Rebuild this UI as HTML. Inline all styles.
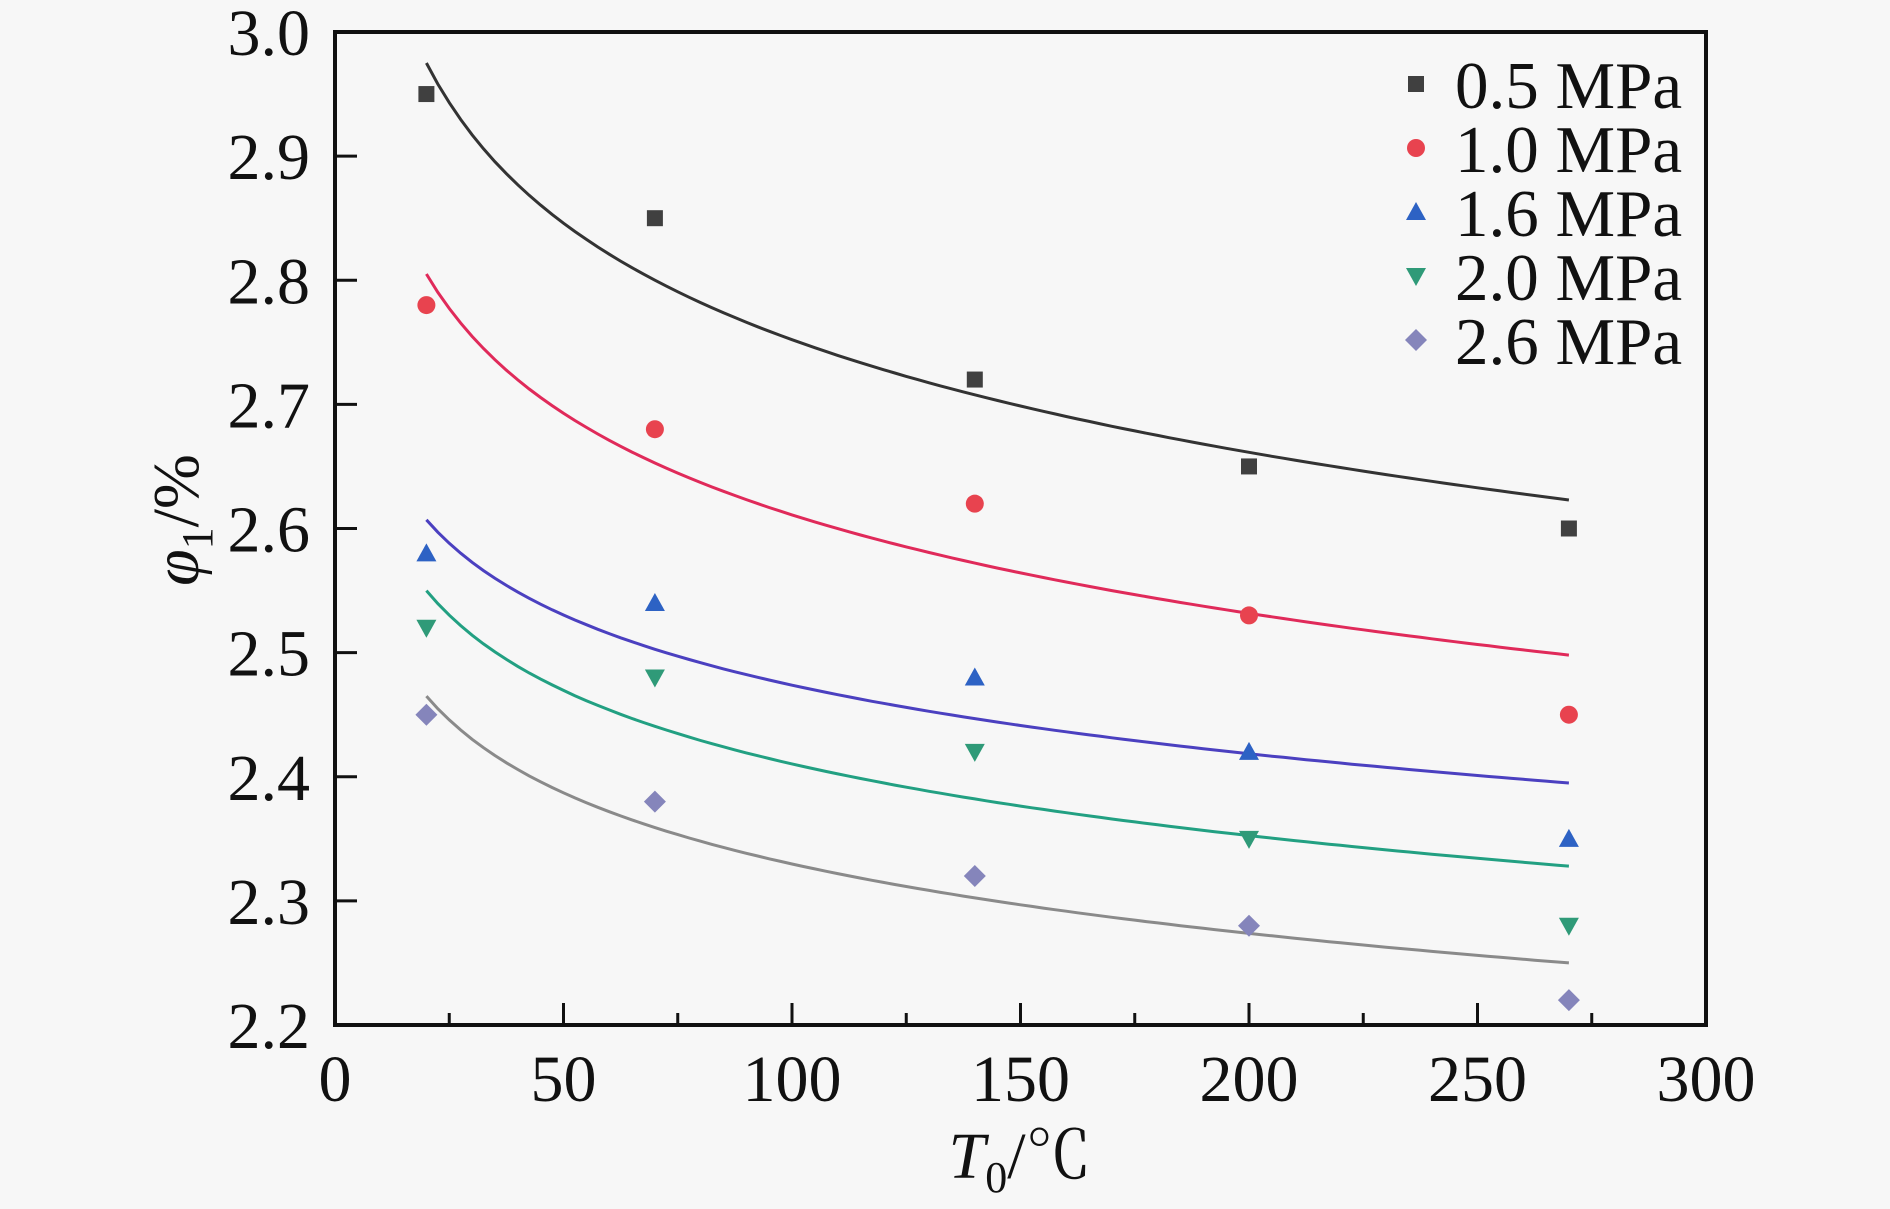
<!DOCTYPE html>
<html><head><meta charset="utf-8"><style>
html,body{margin:0;padding:0;background:#f7f7f7;}
svg{display:block;font-family:"Liberation Serif","Noto Serif CJK SC",serif;}
</style></head><body>
<svg id="chart" width="1890" height="1209" viewBox="0 0 1890 1209" xmlns="http://www.w3.org/2000/svg">
<rect width="1890" height="1209" fill="#f7f7f7"/>
<g id="marks"></g>
<g id="axes"></g>
<g id="legend"></g>
</svg>
<script>
const categories = [20, 70, 140, 200, 270];
const seriesNames = ["0.5 MPa","1.0 MPa","1.6 MPa","2.0 MPa","2.6 MPa"];
const s05 = [2.95, 2.85, 2.72, 2.65, 2.60];
const s10 = [2.78, 2.68, 2.62, 2.53, 2.45];
const s16 = [2.58, 2.54, 2.48, 2.42, 2.35];
const s20 = [2.52, 2.48, 2.42, 2.35, 2.28];
const s26 = [2.45, 2.38, 2.32, 2.28, 2.22];
const fitStart = [2.975, 2.805, 2.607, 2.55, 2.465];
const fitEnd = [2.623, 2.498, 2.395, 2.328, 2.25];
const xTicks = [0, 50, 100, 150, 200, 250, 300];
const yTicks = [2.2, 2.3, 2.4, 2.5, 2.6, 2.7, 2.8, 2.9, 3.0];

const series = [s05, s10, s16, s20, s26];
const markerColors = ["#404040","#e8434f","#2d62c4","#2f9a78","#8585bb"];
const lineColors = ["#333333","#e02a5a","#4b40c0","#22a082","#8a8a8a"];
const shapes = ["square","circle","triangle","down","diamond"];
const L=335,R=1706,T=32,B=1025;
const X = v => L + (v-0)/(300-0)*(R-L);
const Y = v => B - (v-2.2)/(3.0-2.2)*(B-T);
const NS="http://www.w3.org/2000/svg";
function el(tag, attrs, parent){const e=document.createElementNS(NS,tag);for(const k in attrs)e.setAttribute(k,attrs[k]);parent.appendChild(e);return e;}
const marks=document.getElementById('marks'), axes=document.getElementById('axes'), legend=document.getElementById('legend');

function marker(shape,cx,cy,color,parent){
  let e;
  if(shape==="square") e=el('rect',{x:cx-8,y:cy-8,width:16,height:16,fill:color},parent);
  else if(shape==="circle") e=el('circle',{cx:cx,cy:cy,r:9,fill:color},parent);
  else if(shape==="triangle") e=el('polygon',{points:`${cx},${cy-10} ${cx+10},${cy+8} ${cx-10},${cy+8}`,fill:color},parent);
  else if(shape==="down") e=el('polygon',{points:`${cx-10},${cy-8} ${cx+10},${cy-8} ${cx},${cy+10}`,fill:color},parent);
  else e=el('polygon',{points:`${cx},${cy-11} ${cx+11},${cy} ${cx},${cy+11} ${cx-11},${cy}`,fill:color},parent);
  return e;
}

series.forEach((vals,si)=>{
  const x0=categories[0], x1=categories[categories.length-1];
  const b=Math.log(fitEnd[si]/fitStart[si])/Math.log(x1/x0);
  const a=fitStart[si]/Math.pow(x0,b);
  let d="";
  for(let i=0;i<=100;i++){const xv=x0+(x1-x0)*i/100;const yv=a*Math.pow(xv,b);d+=(i?"L":"M")+X(xv).toFixed(1)+","+Y(yv).toFixed(1);}
  const p=el('path',{d:d,fill:"none",stroke:lineColors[si],"stroke-width":3},marks);
  
  
  vals.forEach((v,i)=>{
    const m=marker(shapes[si],X(categories[i]),Y(v),markerColors[si],marks);
    
    
  });
});

const fr=el('rect',{x:L,y:T,width:R-L,height:B-T,fill:"none",stroke:"#111","stroke-width":4},axes);


xTicks.forEach((t,i)=>{
  const x=X(t);
  const tk=el('line',{x1:x,x2:x,y1:B,y2:B-22,stroke:"#111","stroke-width":3},axes);
  
  
  if(i<xTicks.length-1){
    const mx=X(t+25);
    const mt=el('line',{x1:mx,x2:mx,y1:B,y2:B-12,stroke:"#111","stroke-width":3},axes);
    
    
  }
  const tx=el('text',{x:x,y:1101,"font-size":66,"text-anchor":"middle",fill:"#111"},axes);
  tx.textContent=t;
  
  
});
yTicks.forEach(t=>{
  const y=Y(t);
  const tk=el('line',{x1:L,x2:L+22,y1:y,y2:y,stroke:"#111","stroke-width":3},axes);
  
  
  const tx=el('text',{x:310,y:y+23,"font-size":66,"text-anchor":"end",fill:"#111"},axes);
  tx.textContent=t.toFixed(1);
  
  
});
const xt=el('text',{x:1020,y:1178,"font-size":66,"text-anchor":"middle",fill:"#111"},axes);
xt.innerHTML='<tspan font-style="italic">T</tspan><tspan font-size="44" dy="14">0</tspan><tspan dy="-14">/℃</tspan>';


const yt=el('text',{x:0,y:0,"font-size":66,"text-anchor":"middle",fill:"#111",transform:"translate(198,520) rotate(-90)"},axes);
yt.innerHTML='<tspan font-style="italic">φ</tspan><tspan font-size="44" dy="14">1</tspan><tspan dy="-14">/%</tspan>';


const legY=[84,148,212,276,340];
seriesNames.forEach((n,si)=>{
  const g=el('g',{},legend);
  
  
  marker(shapes[si],1416,legY[si],markerColors[si],g);
  const tx=el('text',{x:1455,y:legY[si]+24,"font-size":67,fill:"#111"},g);
  tx.textContent=n;
});
</script>
</body></html>
